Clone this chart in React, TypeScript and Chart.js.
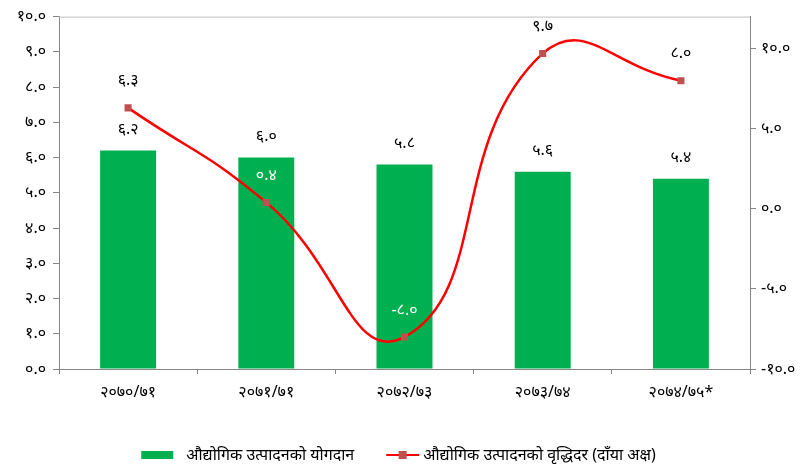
import { useEffect, useRef } from "react";
import { Chart, registerables } from "chart.js";

Chart.register(...registerables);

const categories = ["२०७०/७१", "२०७१/७१", "२०७२/७३", "२०७३/७४", "२०७४/७५*"];
const contribution = [6.2, 6.0, 5.8, 5.6, 5.4];
const growthRate = [6.3, 0.4, -8.0, 9.7, 8.0];
const leftTicks = [0, 1, 2, 3, 4, 5, 6, 7, 8, 9, 10];
const rightTicks = [-10, -5, 0, 5, 10];
const seriesNames = [
  "औद्योगिक उत्पादनको योगदान",
  "औद्योगिक उत्पादनको वृद्धिदर (दाँया अक्ष)",
];

const DIGITS = "०१२३४५६७८९";
const toNe = (v: number) => Number(v).toFixed(1).replace(/\d/g, (d) => DIGITS[+d]);

const FAMILY = "'Noto Sans', 'DejaVu Sans', sans-serif";
const FONT_SIZE = 16;
const AXIS_COLOR = "#868686";
const BAR_COLOR = "#00B050";
const LINE_COLOR = "#FF0000";
const MARKER_COLOR = "#C0504D";

const labelsPlugin = {
  id: "valueLabels",
  afterDatasetsDraw(chart: any) {
    const ctx = chart.ctx;
    const barMeta = chart.getDatasetMeta(0);
    const lineMeta = chart.getDatasetMeta(1);
    ctx.save();
    ctx.font = `${FONT_SIZE}px ${FAMILY}`;
    ctx.textAlign = "center";
    ctx.textBaseline = "middle";
    barMeta.data.forEach((el: any, i: number) => {
      ctx.fillStyle = "#000";
      ctx.fillText(toNe(contribution[i]), el.x, el.y - 21);
    });
    lineMeta.data.forEach((pt: any, i: number) => {
      const y = pt.y - 27;
      const bar = barMeta.data[i];
      const inside = y > bar.y && Math.abs(pt.x - bar.x) < bar.width / 2;
      ctx.fillStyle = inside ? "#fff" : "#000";
      ctx.fillText(toNe(growthRate[i]), pt.x, y);
    });
    ctx.restore();
  },
};

const framePlugin = {
  id: "frameAndLegend",
  afterDraw(chart: any) {
    const ctx = chart.ctx;
    const a = chart.chartArea;
    ctx.save();
    ctx.strokeStyle = "#BFBFBF";
    ctx.lineWidth = 1;
    ctx.beginPath();
    ctx.moveTo(a.left, a.top + 0.5);
    ctx.lineTo(a.right, a.top + 0.5);
    ctx.stroke();

    // legend
    ctx.font = `${FONT_SIZE}px ${FAMILY}`;
    ctx.textBaseline = "middle";
    ctx.textAlign = "left";
    const swatch = 33;
    const gap = 12;
    const itemGap = 32;
    const w0 = ctx.measureText(chart.data.datasets[0].label).width;
    const w1 = ctx.measureText(chart.data.datasets[1].label).width;
    const total = swatch + gap + w0 + itemGap + swatch + 4 + w1;
    let x = (chart.width - total) / 2 - 6;
    const y = 455;
    ctx.fillStyle = BAR_COLOR;
    ctx.fillRect(x, y - 4, swatch - 1, 8);
    x += swatch + gap;
    ctx.fillStyle = "#000";
    ctx.fillText(chart.data.datasets[0].label, x, y);
    x += w0 + itemGap;
    ctx.strokeStyle = LINE_COLOR;
    ctx.lineWidth = 2;
    ctx.beginPath();
    ctx.moveTo(x, y);
    ctx.lineTo(x + swatch, y);
    ctx.stroke();
    ctx.fillStyle = MARKER_COLOR;
    ctx.fillRect(x + swatch / 2 - 4, y - 4, 8, 8);
    x += swatch + 4;
    ctx.fillStyle = "#000";
    ctx.fillText(chart.data.datasets[1].label, x, y);
    ctx.restore();
  },
};

export default function App() {
  const ref = useRef<HTMLCanvasElement | null>(null);

  useEffect(() => {
    document.body.style.margin = "0";
    const canvas = ref.current;
    if (!canvas) return;
    const tickFont = { family: FAMILY, size: FONT_SIZE };
    const chart = new Chart(canvas, {
      type: "bar",
      data: {
        labels: categories,
        datasets: [
          {
            type: "bar",
            label: seriesNames[0],
            data: contribution,
            backgroundColor: BAR_COLOR,
            borderWidth: 0,
            yAxisID: "y",
            categoryPercentage: 1,
            barPercentage: 0.405,
            order: 2,
          } as any,
          {
            type: "line",
            label: seriesNames[1],
            data: growthRate,
            yAxisID: "y1",
            borderColor: LINE_COLOR,
            borderWidth: 2.5,
            tension: 0.5,
            cubicInterpolationMode: "default",
            pointStyle: "rect",
            pointRadius: 5,
            pointBackgroundColor: MARKER_COLOR,
            pointBorderColor: MARKER_COLOR,
            pointBorderWidth: 0,
            fill: false,
            order: 1,
          } as any,
        ],
      },
      options: {
        responsive: false,
        animation: false,
        layout: { padding: { top: 14, bottom: 60, left: 0, right: 0 } },
        plugins: {
          legend: { display: false },
          tooltip: { enabled: false },
        },
        scales: {
          x: {
            grid: {
              display: true,
              drawOnChartArea: false,
              offset: true,
              tickLength: 5,
              color: AXIS_COLOR,
            },
            border: { color: AXIS_COLOR },
            ticks: { color: "#000", font: tickFont, padding: 9, maxRotation: 0 },
            afterFit: (s: any) => {
              s.height = 40;
            },
          },
          y: {
            position: "left",
            min: 0,
            max: 10,
            afterBuildTicks: (s: any) => {
              s.ticks = leftTicks.map((v) => ({ value: v }));
            },
            grid: { drawOnChartArea: false, tickLength: 6, color: AXIS_COLOR },
            border: { color: AXIS_COLOR },
            ticks: {
              color: "#000",
              font: tickFont,
              padding: 7,
              callback: (v: any) => toNe(Number(v)),
            },
            afterFit: (s: any) => {
              s.width = 59;
            },
          },
          y1: {
            position: "right",
            min: -10,
            max: 12,
            afterBuildTicks: (s: any) => {
              s.ticks = rightTicks.map((v) => ({ value: v }));
            },
            grid: { drawOnChartArea: false, tickLength: 6, color: AXIS_COLOR },
            border: { color: AXIS_COLOR },
            ticks: {
              color: "#000",
              font: tickFont,
              padding: 5,
              callback: (v: any) => toNe(Number(v)),
            },
            afterFit: (s: any) => {
              s.width = 59;
            },
          },
        },
      } as any,
      plugins: [labelsPlugin, framePlugin],
    });
    return () => chart.destroy();
  }, []);

  return (
    <div style={{ width: 809, height: 469 }}>
      <canvas ref={ref} width={809} height={469} />
    </div>
  );
}
